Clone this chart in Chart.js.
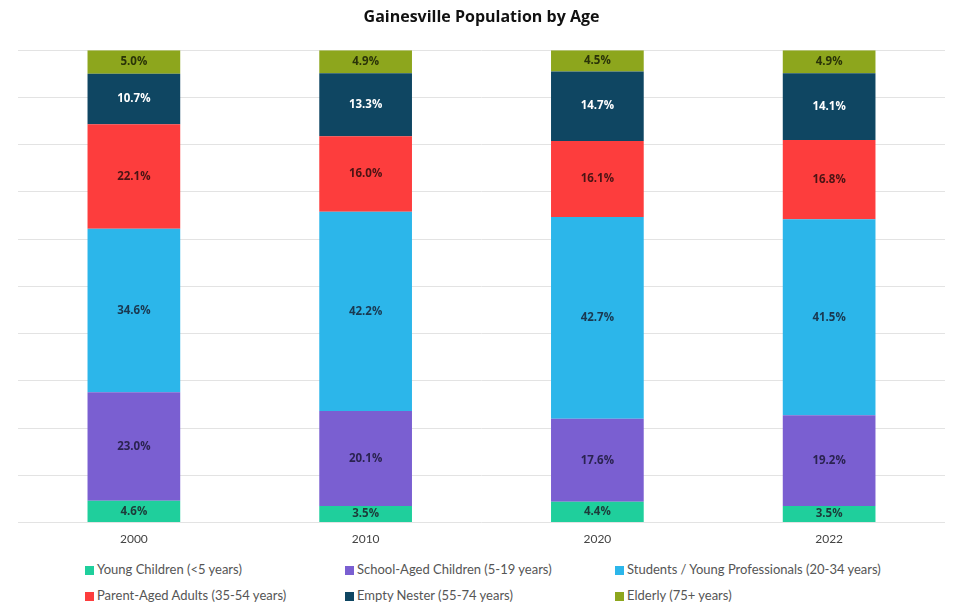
<!DOCTYPE html>
<html>
<head>
<meta charset="utf-8">
<script src="https://cdn.jsdelivr.net/npm/chart.js@4"></script>
<style>
  body { margin: 0; background: #fff; }
  #wrap { position: relative; width: 955px; height: 606px; }
  #chart-box { position: absolute; left: 0; top: 0; width: 955px; height: 549px; }
  #legend { position: absolute; left: 0; top: 560px; width: 955px; font-family: Lato, "Open Sans", sans-serif; font-size: 13px; color: #555; }
  .item { position: absolute; height: 18px; line-height: 18px; white-space: nowrap; }
  .box { display: inline-block; width: 9px; height: 9px; margin-right: 3px; vertical-align: -0.5px; }
</style>
</head>
<body>
<div id="wrap">
  <div id="chart-box"><canvas id="age-chart"></canvas></div>
  <div id="legend"></div>
</div>
<script>
var years = ["2000", "2010", "2020", "2022"];
var youngChildren = [4.6, 3.5, 4.4, 3.5];
var schoolAged = [23.0, 20.1, 17.6, 19.2];
var students = [34.6, 42.2, 42.7, 41.5];
var parentAged = [22.1, 16.0, 16.1, 16.8];
var emptyNester = [10.7, 13.3, 14.7, 14.1];
var elderly = [5.0, 4.9, 4.5, 4.9];

var seriesNames = [
  "Young Children (<5 years)",
  "School-Aged Children (5-19 years)",
  "Students / Young Professionals (20-34 years)",
  "Parent-Aged Adults (35-54 years)",
  "Empty Nester (55-74 years)",
  "Elderly (75+ years)"
];
var seriesColors = ["#1fcf9c", "#7a5fd1", "#2cb6ea", "#fd3d3d", "#0f4662", "#8da61d"];
var labelColors = ["#1d3b3a", "#2a2350", "#1a3850", "#4a1414", "#ffffff", "#2a3308"];
var seriesData = [youngChildren, schoolAged, students, parentAged, emptyNester, elderly];

var datasets = seriesData.map(function (d, i) {
  return {
    label: seriesNames[i],
    data: d,
    backgroundColor: seriesColors[i],
    borderWidth: 0,
    categoryPercentage: 1,
    barPercentage: 0.4
  };
});

// draws the % value in the middle of every segment
var segmentLabels = {
  id: 'segmentLabels',
  afterDatasetsDraw: function (chart) {
    var ctx = chart.ctx;
    ctx.save();
    ctx.font = "bold 11.5px 'Open Sans', sans-serif";
    ctx.textAlign = 'center';
    ctx.textBaseline = 'middle';
    chart.data.datasets.forEach(function (ds, i) {
      var meta = chart.getDatasetMeta(i);
      meta.data.forEach(function (bar, j) {
        var mid = (bar.y + bar.base) / 2;
        ctx.fillStyle = labelColors[i];
        ctx.fillText(ds.data[j].toFixed(1) + '%', bar.x, mid);
      });
    });
    ctx.restore();
  }
};

var ageChart = new Chart(document.getElementById('age-chart'), {
  type: 'bar',
  data: { labels: years, datasets: datasets },
  options: {
    responsive: true, maintainAspectRatio: false,
    animation: false,
    layout: { padding: { left: 18, right: 10, top: 0, bottom: 2 } },
    plugins: {
      legend: { display: false },
      tooltip: { enabled: false },
      title: {
        display: true,
        text: 'Gainesville Population by Age',
        color: '#111',
        font: { family: "'Open Sans', sans-serif", size: 16, weight: 'bold' },
        padding: { top: 8, bottom: 23 }
      }
    },
    scales: {
      x: {
        stacked: true,
        grid: { display: false },
        border: { display: false },
        ticks: { color: '#444', padding: 1, font: { family: "Lato, sans-serif", size: 12 } }
      },
      y: {
        stacked: true,
        min: 0, max: 100,
        ticks: { display: false, stepSize: 10 },
        grid: { color: '#e3e3e3', drawTicks: false },
        border: { display: false }
      }
    }
  },
  plugins: [segmentLabels]
});

// legend in a 3 x 2 grid like the original
var legendEl = document.getElementById('legend');
var colX = [85, 345, 615];
seriesNames.forEach(function (name, i) {
  var item = document.createElement('div');
  item.className = 'item';
  item.style.left = colX[i % 3] + 'px';
  item.style.top = (Math.floor(i / 3) * 26) + 'px';
  item.innerHTML = '<span class="box" style="background:' + seriesColors[i] + '"></span>' + name.replace('<', '&lt;');
  legendEl.appendChild(item);
});
</script>
</body>
</html>
